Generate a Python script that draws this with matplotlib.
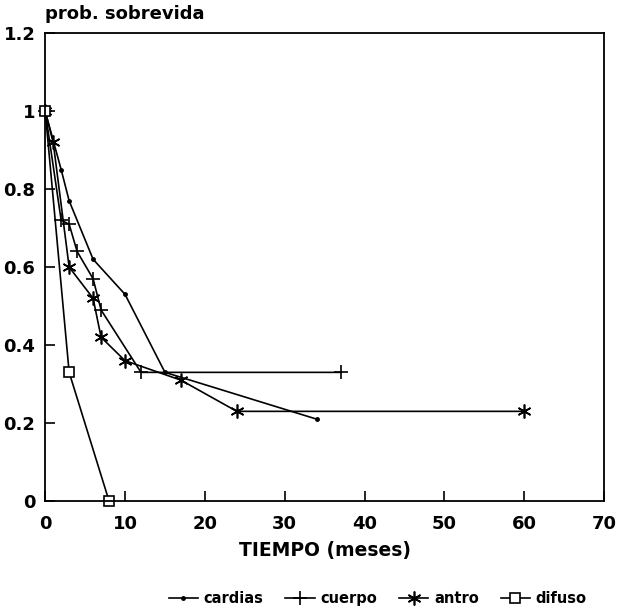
import matplotlib
matplotlib.use("Agg")
import matplotlib.pyplot as plt

plt.rcParams['font.family'] = ['DejaVu Sans']
plt.rcParams['font.weight'] = 'bold'

# datos
cardias_t = [0, 2, 3, 6, 10, 15, 34]
cardias_p = [1.0, 0.85, 0.77, 0.62, 0.53, 0.33, 0.21]

cuerpo_t = [0, 2, 3, 4, 6, 7, 12, 37]
cuerpo_p = [1.0, 0.72, 0.71, 0.64, 0.57, 0.49, 0.33, 0.33]

antro_t = [0, 1, 3, 6, 7, 10, 17, 24, 60]
antro_p = [1.0, 0.92, 0.60, 0.52, 0.42, 0.36, 0.31, 0.23, 0.23]

difuso_t = [0, 3, 8]
difuso_p = [1.0, 0.33, 0.0]

xticks = [0, 10, 20, 30, 40, 50, 60, 70]
yticks = [0, 0.2, 0.4, 0.6, 0.8, 1.0, 1.2]
ylabels = ["0", "0.2", "0.4", "0.6", "0.8", "1", "1.2"]

fig = plt.figure(figsize=(6.19, 6.14), dpi=100)
ax = fig.add_axes([0.073, 0.184, 0.903, 0.762])

ax.plot(cardias_t, cardias_p, color='black', lw=1.2, marker='o', ms=2.5, label='cardias', clip_on=False)
ax.plot(cuerpo_t, cuerpo_p, color='black', lw=1.2, marker='+', ms=10, mew=1.2, label='cuerpo', clip_on=False)
ax.plot(antro_t, antro_p, color='black', lw=1.2, marker=(6, 2, 0), ms=10, mew=1.2, label='antro', clip_on=False)
ax.plot(difuso_t, difuso_p, color='black', lw=1.2, marker='s', ms=6.5, mfc='white', mew=1.2, label='difuso', clip_on=False)

ax.set_xlim(0, 70)
ax.set_ylim(0, 1.2)
ax.set_xticks(xticks)
ax.set_yticks(yticks)
ax.set_yticklabels(ylabels)
ax.tick_params(direction='in', length=7, width=1.2, labelsize=13)
ax.tick_params(axis='x', pad=10)
ax.tick_params(axis='y', pad=7)
for s in ax.spines.values():
    s.set_linewidth(1.3)

ax.set_xlabel("TIEMPO (meses)", fontsize=13.5, fontweight='bold', labelpad=6)
ax.text(0, 1.225, "prob. sobrevida", fontsize=13, fontweight='bold', ha='left', va='bottom')

fig.legend(loc='lower center', bbox_to_anchor=(0.61, -0.008), ncol=4, frameon=False,
           fontsize=10.5, handlelength=2.0, columnspacing=1.5, handletextpad=0.4)

fig.savefig("out.png", dpi=100)
